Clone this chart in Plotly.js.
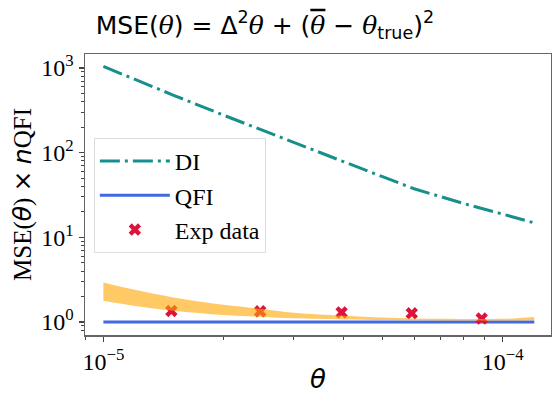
<!DOCTYPE html>
<html>
<head>
<meta charset="utf-8">
<script src="https://cdn.plot.ly/plotly-3.0.1.min.js"></script>
<style>html,body{margin:0;padding:0;background:#fff;}#chart{width:552px;height:394px;}</style>
</head>
<body>
<div id="chart"></div>
<script>
// theta grid for the curves
const thetaGrid = [1.0e-5, 1.2e-5, 1.5e-5, 2e-5, 2.5e-5, 3e-5, 4e-5, 5e-5, 6e-5, 7e-5, 8e-5, 1e-4, 1.2e-4];
// DI curve
const diValues = [1042, 731, 476, 277, 184, 130, 77, 52, 37.5, 30.2, 25.0, 18.8, 14.8];
// band (upper/lower)
const bandUpper = [2.94, 2.4, 1.95, 1.6, 1.43, 1.29, 1.19, 1.13, 1.10, 1.09, 1.085, 1.09, 1.15];
const bandLower = [1.78, 1.55, 1.36, 1.21, 1.15, 1.11, 1.075, 1.06, 1.05, 1.045, 1.04, 1.04, 1.05];
// QFI reference line
const qfiTheta = [1.0e-5, 1.2e-4];
const qfiValues = [1, 1];
// experimental data
const expTheta = [1.48e-5, 2.47e-5, 3.95e-5, 5.92e-5, 8.86e-5];
const expValues = [1.35, 1.34, 1.30, 1.27, 1.10];
// tick labels
const xTickVals = [1e-5, 1e-4];
const xTickText = ['10<sup>\u22125</sup>', '10<sup>\u22124</sup>'];
const yTickVals = [1, 10, 100, 1000];
const yTickText = ['10<sup>0</sup>', '10<sup>1</sup>', '10<sup>2</sup>', '10<sup>3</sup>'];

const serif = 'Liberation Serif, Times New Roman, serif';
const sans = 'DejaVu Sans, sans-serif';
const th = '<span style="font-family:DejaVu Serif;font-style:italic">\u03b8</span>';
const thBar = '<span style="font-family:DejaVu Serif;font-style:italic;text-decoration:overline">\u03b8</span>';

const traces = [
  {x: thetaGrid, y: diValues, mode: 'lines', name: 'DI', legendrank: 1,
   line: {color: '#178f8a', width: 3, dash: '20px,5px,3px,5px'}},
  {x: qfiTheta, y: qfiValues, mode: 'lines', name: 'QFI', legendrank: 2,
   line: {color: '#4169e1', width: 3}},
  {x: expTheta, y: expValues, mode: 'markers', name: 'Exp data', legendrank: 3,
   marker: {symbol: 'x', size: 11, color: '#dc143c'}},
  {x: thetaGrid, y: bandLower, mode: 'lines', line: {width: 0, shape: 'spline'}, showlegend: false, hoverinfo: 'skip'},
  {x: thetaGrid, y: bandUpper, mode: 'lines', line: {width: 0, shape: 'spline'}, fill: 'tonexty',
   fillcolor: 'rgba(255,165,0,0.6)', showlegend: false, hoverinfo: 'skip'}
];

const axisCommon = {
  type: 'log', showgrid: false, zeroline: false,
  showline: true, linecolor: '#666', linewidth: 1.5, mirror: true,
  ticks: 'outside', ticklen: 5, tickwidth: 1.2, tickcolor: '#444',
  tickfont: {family: serif, size: 24, color: '#000'},
  minor: {ticks: 'outside', ticklen: 3, tickwidth: 1, tickcolor: '#444', dtick: 'D1', showgrid: false}
};

const layout = {
  width: 552, height: 394,
  margin: {l: 85, r: 1, t: 54, b: 59},
  paper_bgcolor: '#fff', plot_bgcolor: '#fff',
  title: {
    text: 'MSE(' + th + ') = \u0394<sup>2</sup>' + th + ' + (' + thBar + ' \u2212 ' + th + '<sub>true</sub>)<sup>2</sup>',
    font: {family: sans, size: 25, color: '#000'},
    x: 0.48, xref: 'container', xanchor: 'center',
    y: 1 - 25/394, yref: 'container', yanchor: 'middle'
  },
  xaxis: Object.assign({}, axisCommon, {
    range: [-5.046, -3.879],
    tickvals: xTickVals, ticktext: xTickText,
    title: {text: '<i>\u03b8</i>', font: {family: sans, size: 26, color: '#000'}, standoff: 4}
  }),
  yaxis: Object.assign({}, axisCommon, {
    range: [-0.153, 3.165],
    tickvals: yTickVals, ticktext: yTickText,
    title: {text: 'MSE(<span style="font-family:DejaVu Sans"><i>\u03b8</i></span>) <span style="font-family:DejaVu Sans">\u00d7</span> <span style="font-family:DejaVu Sans"><i>n</i></span>QFI',
            font: {family: serif, size: 25, color: '#000'}, standoff: 2}
  }),
  legend: {
    x: 0.019, y: 0.701, xanchor: 'left', yanchor: 'top',
    bgcolor: 'rgba(255,255,255,0.8)', bordercolor: '#dddddd', borderwidth: 1,
    font: {family: serif, size: 24, color: '#000'},
    itemwidth: 70,
    traceorder: 'normal'
  },
  showlegend: true
};

Plotly.newPlot('chart', traces, layout, {displayModeBar: false, staticPlot: true});
</script>
</body>
</html>
